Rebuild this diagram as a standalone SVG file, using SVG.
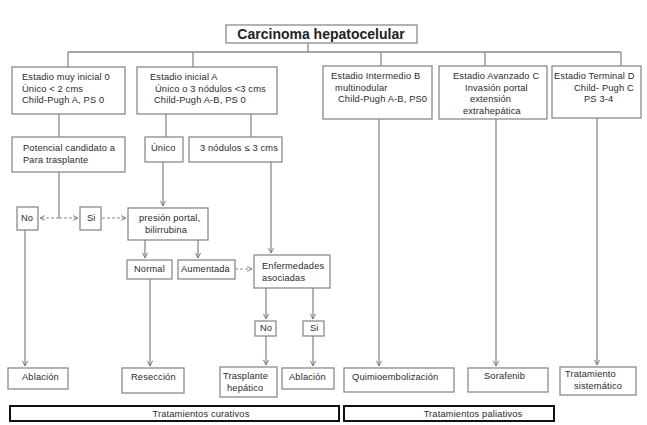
<svg xmlns="http://www.w3.org/2000/svg" width="647" height="425" viewBox="0 0 647 425">
<defs>
<marker id="ah" viewBox="0 0 10 10" refX="9" refY="5" markerWidth="5" markerHeight="5" orient="auto">
<path d="M1,1 L9,5 L1,9" fill="none" stroke="#777" stroke-width="1.5"/>
</marker>
<style>
.bx{fill:#fff;stroke:#8a8a8a;stroke-width:1.3}
.tt{font-family:"Liberation Sans",Arial,sans-serif;font-size:9.3px;letter-spacing:0.15px;fill:#2a2a2a}
.ttl{font-family:"Liberation Sans",Arial,sans-serif;font-size:14px;font-weight:bold;fill:#222}
.ln{fill:none;stroke:#8a8a8a;stroke-width:1.3}
.ar{fill:none;stroke:#8a8a8a;stroke-width:1.3;marker-end:url(#ah)}
.da{fill:none;stroke:#8a8a8a;stroke-width:1.2;stroke-dasharray:3,2;marker-end:url(#ah)}
.bar{fill:#fff;stroke:#111;stroke-width:2}
</style>
</defs>
<rect width="647" height="425" fill="#fff"/>

<g id="connectors">
<path class="ln" d="M308,43 V52 M68,52 H621 M68,52 V67 M193,52 V67 M381,52 V66 M485,52 V66 M621,52 V66"/>
<path class="ln" d="M59,114 V137 M166,114 V137 M251,114 V137"/>
<path class="ln" d="M59,172 V218"/>
<path class="da" d="M59,218 H40"/>
<path class="da" d="M59,218 H78"/>
<path class="da" d="M102,218 H126"/>
<path class="ar" d="M163,162 V206"/>
<path class="ar" d="M271,162 V253"/>
<path class="ar" d="M145,240 V258"/>
<path class="ar" d="M198,240 V258"/>
<path class="da" d="M235,269 H252"/>
<path class="ar" d="M266,288 V319"/>
<path class="ar" d="M313,288 V319"/>
<path class="ar" d="M25,230 V366"/>
<path class="ar" d="M150,279 V366"/>
<path class="ar" d="M266,336 V365"/>
<path class="ar" d="M313,336 V366"/>
<path class="ar" d="M379,119 V366"/>
<path class="ar" d="M496,119 V366"/>
<path class="ar" d="M597,118 V365"/>
</g>

<g id="title"><rect class="bx" x="226" y="25" width="191" height="18"/><text class="ttl" x="321" y="39" text-anchor="middle">Carcinoma hepatocelular</text></g>

<g id="estadio0"><rect class="bx" x="12" y="67" width="113" height="47"/>
<text class="tt" x="22" y="80">Estadio muy inicial  0</text>
<text class="tt" x="22" y="92">Único &lt; 2 cms</text>
<text class="tt" x="22" y="103">Child-Pugh A, PS 0</text></g>

<g id="estadioA"><rect class="bx" x="137" y="67" width="140" height="47"/>
<text class="tt" x="150" y="80">Estadio  inicial  A</text>
<text class="tt" x="155" y="92">Único o 3 nódulos &lt;3 cms</text>
<text class="tt" x="154" y="103">Child-Pugh A-B, PS 0</text></g>

<g id="estadioB"><rect class="bx" x="323" y="66" width="109" height="53"/>
<text class="tt" x="331" y="79">Estadio Intermedio  B</text>
<text class="tt" x="335" y="91">multinodular</text>
<text class="tt" x="338" y="102">Child-Pugh A-B, PS0</text></g>

<g id="estadioC"><rect class="bx" x="439" y="66" width="108" height="53"/>
<text class="tt" x="453" y="79">Estadio Avanzado C</text>
<text class="tt" x="465" y="91">Invasión portal</text>
<text class="tt" x="470" y="102">extensión</text>
<text class="tt" x="463" y="114">extrahepática</text></g>

<g id="estadioD"><rect class="bx" x="552" y="66" width="89" height="52"/>
<text class="tt" x="554" y="79">Estadio Terminal D</text>
<text class="tt" x="574" y="91">Child- Pugh C</text>
<text class="tt" x="584" y="102">PS 3-4</text></g>

<g id="potencial"><rect class="bx" x="12" y="137" width="113" height="35"/>
<text class="tt" x="23" y="151">Potencial candidato a</text>
<text class="tt" x="23" y="163">Para trasplante</text></g>

<g id="unico"><rect class="bx" x="145" y="137" width="38" height="25"/>
<text class="tt" x="151" y="151">Único</text></g>

<g id="nodulos"><rect class="bx" x="189" y="137" width="93" height="25"/>
<text class="tt" x="200" y="151">3 nódulos ≤ 3 cms</text></g>

<g id="no1"><rect class="bx" x="17" y="207" width="21" height="23"/><text class="tt" x="21" y="221">No</text></g>
<g id="si1"><rect class="bx" x="80" y="207" width="21" height="23"/><text class="tt" x="87" y="221">Si</text></g>

<g id="presion"><rect class="bx" x="128" y="208" width="80" height="32"/>
<text class="tt" x="139" y="221">presión portal,</text>
<text class="tt" x="145" y="233">bilirrubina</text></g>

<g id="normal"><rect class="bx" x="127" y="260" width="45" height="19"/><text class="tt" x="134" y="272">Normal</text></g>
<g id="aumentada"><rect class="bx" x="178" y="260" width="57" height="19"/><text class="tt" x="181" y="272">Aumentada</text></g>

<g id="enfermedades"><rect class="bx" x="254" y="255" width="76" height="33"/>
<text class="tt" x="262" y="269">Enfermedades</text>
<text class="tt" x="262" y="281">asociadas</text></g>

<g id="no2"><rect class="bx" x="255" y="321" width="21" height="15"/><text class="tt" x="260" y="331">No</text></g>
<g id="si2"><rect class="bx" x="303" y="321" width="21" height="15"/><text class="tt" x="310" y="331">Si</text></g>

<g id="ablacion1"><rect class="bx" x="8" y="368" width="60" height="21"/><text class="tt" x="22" y="380">Ablación</text></g>
<g id="reseccion"><rect class="bx" x="122" y="368" width="62" height="25"/><text class="tt" x="131" y="380">Resección</text></g>
<g id="trasplante"><rect class="bx" x="220" y="367" width="57" height="30"/>
<text class="tt" x="223" y="379">Trasplante</text>
<text class="tt" x="227" y="391">hepático</text></g>
<g id="ablacion2"><rect class="bx" x="282" y="368" width="52" height="21"/><text class="tt" x="289" y="380">Ablación</text></g>
<g id="quimio"><rect class="bx" x="344" y="368" width="110" height="24"/><text class="tt" x="352" y="380">Quimioembolización</text></g>
<g id="sorafenib"><rect class="bx" x="468" y="368" width="80" height="24"/><text class="tt" x="484" y="379">Sorafenib</text></g>
<g id="sistematico"><rect class="bx" x="560" y="367" width="76" height="28"/>
<text class="tt" x="565" y="377">Tratamiento</text>
<text class="tt" x="574" y="389">sistemático</text></g>

<g id="curativos"><rect class="bar" x="10" y="406" width="329" height="15"/><text class="tt" x="201" y="416.5" text-anchor="middle">Tratamientos curativos</text></g>
<g id="paliativos"><rect class="bar" x="344" y="406" width="210" height="15"/><text class="tt" x="473" y="416.5" text-anchor="middle">Tratamientos paliativos</text></g>
</svg>
